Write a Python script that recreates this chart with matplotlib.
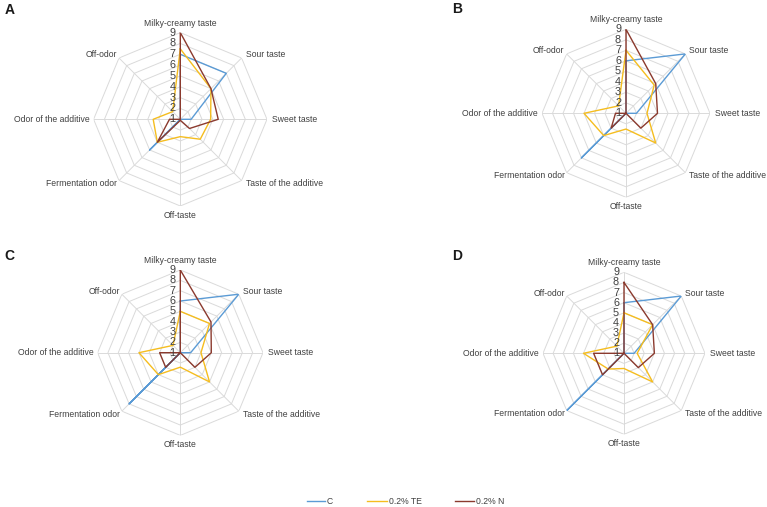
import numpy as np
import matplotlib
matplotlib.use('Agg')
import matplotlib.pyplot as plt
from matplotlib.lines import Line2D

plt.rcParams['font.family'] = ['Liberation Sans', 'DejaVu Sans']

# Sensory attributes, clockwise from the top
categories = ['Milky-creamy taste', 'Sour taste', 'Sweet taste',
              'Taste of the additive', 'Off-taste', 'Fermentation odor',
              'Odor of the additive', 'Off-odor']
series_names = ['C', '0.2% TE', '0.2% N']
colors = ['#5b9bd5', '#f5bd1f', '#8b3a2e']
panel_labels = ['A', 'B', 'C', 'D']
scale_ticks = [1, 2, 3, 4, 5, 6, 7, 8, 9]

# Scores (one list per sample, per panel)
c_A = [7, 7, 2, 1, 1, 5, 1, 1]
te_A = [7.5, 5, 3.8, 3.6, 2.6, 4, 3.5, 2]
n_A = [9, 5, 4.5, 2.2, 1.1, 4, 2, 1]

c_B = [6, 9, 2, 1, 1, 7, 1, 1]
te_B = [7, 4.8, 3, 5, 2.5, 4, 5, 2]
n_B = [9, 5, 4, 3, 1, 3, 2, 1]

c_C = [6, 9, 2, 1, 1, 8, 1, 1]
te_C = [5, 5, 3, 5, 2.4, 4, 5, 2]
n_C = [9, 5.2, 4, 3, 1, 3, 3, 1]

c_D = [6, 9, 2, 1, 1, 9, 1, 1]
te_D = [5, 5, 2.3, 5, 2.5, 3.2, 5, 2]
n_D = [8, 5, 4, 3, 1, 4, 4, 1]

panels = [(c_A, te_A, n_A), (c_B, te_B, n_B), (c_C, te_C, n_C), (c_D, te_D, n_D)]

W, H = 767, 507
# panel centre (px) and radius of the outer ring (px)
centres = [(180.3, 119.3, 86.7), (626, 113.3, 84), (180.3, 352.7, 82.7), (624, 353.3, 81)]
letter_pos = [(9.5, 9.5), (457, 9), (9.5, 256), (457, 256)]

fig = plt.figure(figsize=(W / 100, H / 100), dpi=100)

n = len(categories)
theta = np.linspace(0, 2 * np.pi, n, endpoint=False)
theta_c = np.append(theta, theta[0])

# label offsets (pixels) and alignment around the web
lab_off = [(0, 5), (4, 3), (5, 0), (4, -3), (0, -5), (-2, -3), (-4, 0), (-2, 3)]
lab_ha = ['center', 'left', 'left', 'left', 'center', 'right', 'right', 'right']
lab_va = ['bottom', 'center', 'center', 'center', 'top', 'center', 'center', 'center']

grid_col = '#dadada'
text_col = '#404040'

for k, (cx, cy, R) in enumerate(centres):
    ax = fig.add_axes([(cx - R) / W, 1 - (cy + R) / H, 2 * R / W, 2 * R / H],
                      projection='polar')
    ax.set_theta_zero_location('N')
    ax.set_theta_direction(-1)
    ax.set_ylim(1, 9)
    ax.set_axis_off()

    # octagonal grid and spokes
    for r in scale_ticks[1:]:
        ax.plot(theta_c, [r] * (n + 1), color=grid_col, lw=0.7, zorder=0)
    for t in theta:
        ax.plot([t, t], [1, 9], color=grid_col, lw=0.7, zorder=0)

    # data
    for vals, col in zip(panels[k], colors):
        ax.plot(theta_c, vals + vals[:1], color=col, lw=1.0, zorder=3)

    # scale numbers along the top spoke
    for r in scale_ticks:
        ax.annotate(str(r), xy=(0, r), xytext=(-5, 0), textcoords='offset pixels',
                    ha='right', va='center', fontsize=7.8, color=text_col, zorder=4)

    # attribute names
    for i, name in enumerate(categories):
        ax.annotate(name, xy=(theta[i], 9), xytext=lab_off[i],
                    textcoords='offset pixels', ha=lab_ha[i], va=lab_va[i],
                    fontsize=6.2, color=text_col, annotation_clip=False)

    lx, ly = letter_pos[k]
    fig.text(lx / W, 1 - ly / H, panel_labels[k], fontsize=10, fontweight='bold',
             ha='center', va='center', color='#1a1a1a')

# legend along the bottom
leg_y = 1 - 501 / H
leg_lines = [(307, 325), (367, 387), (455, 474)]
for (x0, x1), name, col in zip(leg_lines, series_names, colors):
    fig.add_artist(Line2D([x0 / W, x1 / W], [leg_y, leg_y], color=col, lw=1.0,
                          transform=fig.transFigure))
    fig.text((x1 + 2) / W, leg_y, name, fontsize=6.2, color=text_col,
             ha='left', va='center')

fig.savefig('out.png', dpi=100)
